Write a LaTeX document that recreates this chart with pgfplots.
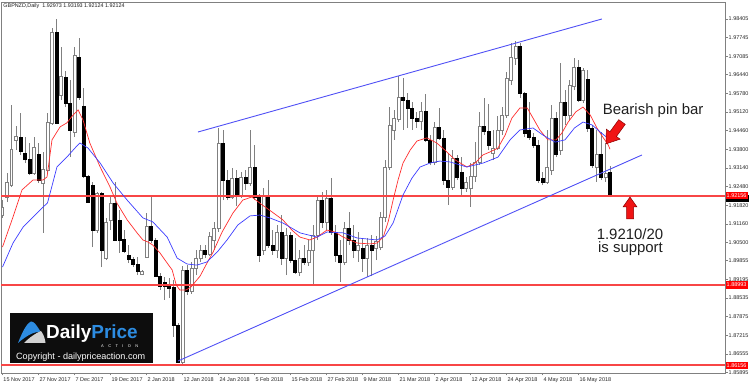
\documentclass[border=0pt]{standalone}
\usepackage{fontspec}
\setmainfont{Liberation Sans}
\usepackage{pgfplots}
\usepackage{pgfplotstable}
\pgfplotsset{compat=1.18}

\definecolor{wickgray}{RGB}{128,128,128}
\definecolor{chanblue}{RGB}{80,80,245}
\definecolor{mared}{RGB}{255,45,45}
\definecolor{mablue}{RGB}{60,60,255}
\definecolor{dpblue}{RGB}{45,140,225}
\definecolor{arrowred}{RGB}{240,20,20}
\definecolor{pricered}{RGB}{255,0,0}
\definecolor{supred}{RGB}{248,70,70}

\tikzset{
  wick/.style={draw=wickgray, line width=0.8bp},
  bullbody/.style={draw=wickgray, fill=white, line width=0.7bp},
  bearbody/.style={draw=black, fill=black, line width=0.7bp},
}

\pgfplotstableread{
i O H L C
0 1.9147 1.9200 1.9137 1.9176
1 1.9211 1.9296 1.9193 1.9264
2 1.9253 1.9536 1.9246 1.9381
3 1.9413 1.9462 1.9377 1.9427
4 1.9423 1.9508 1.9360 1.9374
5 1.9367 1.9423 1.9331 1.9345
6 1.9345 1.9402 1.9289 1.9296
7 1.9296 1.9423 1.9289 1.9388
8 1.9360 1.9402 1.9260 1.9271
9 1.9260 1.9370 1.9084 1.9310
10 1.9306 1.9508 1.9296 1.9476
11 1.9473 1.9809 1.9466 1.9795
12 1.9795 1.9841 1.9469 1.9473
13 1.9572 1.9741 1.9554 1.9639
14 1.9635 1.9657 1.9529 1.9543
15 1.9543 1.9625 1.9352 1.9448
16 1.9441 1.9741 1.9423 1.9713
17 1.9706 1.9773 1.9554 1.9565
18 1.9530 1.9596 1.9278 1.9285
19 1.9285 1.9289 1.9190 1.9193
20 1.9253 1.9264 1.9034 1.9094
21 1.9094 1.9229 1.9084 1.9225
22 1.9225 1.9229 1.8963 1.9023
23 1.8995 1.9137 1.8988 1.9123
24 1.9130 1.9218 1.9094 1.9190
25 1.9190 1.9264 1.9059 1.9059
26 1.9130 1.9165 1.9013 1.9059
27 1.9062 1.9094 1.9013 1.9020
28 1.9006 1.9041 1.8977 1.8992
29 1.8992 1.8999 1.8963 1.8974
30 1.8974 1.8999 1.8935 1.8949
31 1.8939 1.8953 1.8935 1.8949
32 1.8999 1.9154 1.8995 1.9108
33 1.9108 1.9218 1.9048 1.9059
34 1.9059 1.9066 1.8928 1.8931
35 1.8931 1.8942 1.8882 1.8896
36 1.8910 1.8928 1.8847 1.8896
37 1.8900 1.8924 1.8854 1.8889
38 1.8893 1.8917 1.8716 1.8758
39 1.8758 1.8765 1.8624 1.8627
40 1.8627 1.8967 1.86156 1.8953
41 1.8953 1.8970 1.8864 1.8878
42 1.8878 1.8981 1.8868 1.8960
43 1.8960 1.9023 1.8935 1.8995
44 1.8995 1.9041 1.8981 1.9023
45 1.9023 1.9041 1.8995 1.9009
46 1.9009 1.9087 1.9002 1.9073
47 1.9059 1.9123 1.9023 1.9101
48 1.9101 1.9455 1.9087 1.9402
49 1.9402 1.9448 1.9200 1.9271
50 1.9271 1.9306 1.9200 1.9211
51 1.9211 1.9314 1.9204 1.9278
52 1.9278 1.9306 1.9179 1.9218
53 1.9218 1.9299 1.9207 1.9282
54 1.9282 1.9306 1.9236 1.9260
55 1.9260 1.9448 1.9250 1.9314
56 1.9314 1.9395 1.9200 1.9211
57 1.9211 1.9222 1.8981 1.9006
58 1.9023 1.9243 1.9006 1.9218
59 1.9218 1.9271 1.9031 1.9041
60 1.9041 1.9094 1.9006 1.9023
61 1.9023 1.9112 1.8995 1.9087
62 1.9087 1.9147 1.8970 1.8995
63 1.8995 1.9101 1.8935 1.9077
64 1.9077 1.9087 1.8977 1.8988
65 1.8988 1.9066 1.8939 1.8946
66 1.8946 1.9023 1.8931 1.8995
67 1.8995 1.9041 1.8970 1.8981
68 1.8981 1.9059 1.8967 1.9023
69 1.9023 1.9112 1.8903 1.9077
70 1.9077 1.9218 1.9059 1.9200
71 1.9200 1.9229 1.9101 1.9123
72 1.9123 1.9236 1.9094 1.9207
73 1.9207 1.9278 1.9077 1.9087
74 1.9087 1.9112 1.8981 1.9006
75 1.9006 1.9059 1.8910 1.8981
76 1.8981 1.9123 1.8970 1.9101
77 1.9101 1.9158 1.9041 1.9059
78 1.9059 1.9112 1.8995 1.9023
79 1.9023 1.9087 1.8981 1.9041
80 1.9031 1.9066 1.8946 1.8995
81 1.8995 1.9066 1.8928 1.9041
82 1.9041 1.9077 1.8931 1.9023
83 1.9031 1.9073 1.8988 1.9055
84 1.9034 1.9158 1.9023 1.9140
85 1.9140 1.9342 1.9123 1.9317
86 1.9317 1.9529 1.9306 1.9466
87 1.9448 1.9519 1.9413 1.9490
88 1.9487 1.9639 1.9476 1.9565
89 1.9565 1.9632 1.9448 1.9554
90 1.9554 1.9579 1.9455 1.9526
91 1.9526 1.9547 1.9448 1.9490
92 1.9490 1.9512 1.9455 1.9480
93 1.9480 1.9547 1.9448 1.9515
94 1.9515 1.9575 1.9405 1.9413
95 1.9413 1.9430 1.9324 1.9335
96 1.9335 1.9476 1.9324 1.9459
97 1.9459 1.9526 1.9413 1.9420
98 1.9420 1.9448 1.9253 1.9271
99 1.9271 1.9367 1.9183 1.9246
100 1.9246 1.9377 1.9236 1.9349
101 1.9349 1.9360 1.9271 1.9282
102 1.9299 1.9352 1.9218 1.9243
103 1.9243 1.9282 1.9229 1.9264
104 1.9243 1.9331 1.9176 1.9285
105 1.9285 1.9405 1.9264 1.9335
106 1.9335 1.9512 1.9324 1.9462
107 1.9462 1.9561 1.9430 1.9444
108 1.9444 1.9540 1.9377 1.9395
109 1.9367 1.9448 1.9342 1.9384
110 1.9384 1.9497 1.9377 1.9448
111 1.9448 1.9529 1.9430 1.9501
112 1.9501 1.9653 1.9490 1.9632
113 1.9625 1.9756 1.9607 1.9706
114 1.9703 1.9763 1.9678 1.9745
115 1.9745 1.9756 1.9561 1.9579
116 1.9579 1.9582 1.9423 1.9437
117 1.9448 1.9547 1.9413 1.9423
118 1.9423 1.9437 1.9384 1.9395
119 1.9395 1.9413 1.9260 1.9271
120 1.9278 1.9299 1.9253 1.9264
121 1.9264 1.9448 1.9257 1.9317
122 1.9306 1.9536 1.9289 1.9490
123 1.9490 1.9512 1.9352 1.9360
124 1.9377 1.9685 1.9360 1.9547
125 1.9547 1.9589 1.9466 1.9501
126 1.9501 1.9625 1.9483 1.9607
127 1.9603 1.9703 1.9589 1.9671
128 1.9671 1.9696 1.9547 1.9554
129 1.9554 1.9667 1.9543 1.9660
130 1.9628 1.9660 1.9441 1.9455
131 1.9455 1.9466 1.9314 1.9324
132 1.9317 1.9448 1.9264 1.9360
133 1.9360 1.9441 1.9271 1.9282
134 1.9282 1.9402 1.9264 1.9296
135 1.92973 1.93193 1.92124 1.92124
}\candles

\pgfplotstableread{
i P
0 1.9034
2.33 1.9140
4.33 1.9236
6.78 1.9271
9.0 1.9271
9.9 1.9282
11.0 1.9413
12.8 1.9459
14.3 1.9473
15.7 1.9501
16.8 1.9519
17.9 1.9483
19.4 1.9402
21.7 1.9317
23.9 1.9246
25.4 1.9190
27.7 1.9130
29.9 1.9084
31.2 1.9059
32.3 1.9052
33.4 1.9041
35.0 1.9013
36.6 1.8977
37.7 1.8953
38.6 1.8900
39.4 1.8882
40.8 1.8882
41.9 1.8893
43.9 1.8931
45.2 1.8970
46.8 1.9016
48.8 1.9087
51.2 1.9154
53.4 1.9200
55.4 1.9211
57.7 1.9183
59.9 1.9158
62.3 1.9130
64.3 1.9094
66.1 1.9069
68.3 1.9059
69.9 1.9069
72.1 1.9094
73.9 1.9087
75.7 1.9069
78.8 1.9048
81.7 1.9045
83.2 1.9048
84.6 1.9069
85.7 1.9123
86.8 1.9200
87.9 1.9271
89.0 1.9331
90.6 1.9377
92.1 1.9409
94.3 1.9420
96.5 1.9402
98.3 1.9377
100.6 1.9342
103.2 1.9317
105.0 1.9331
106.8 1.9360
108.3 1.9370
110.1 1.9384
111.7 1.9430
113.2 1.9490
115.0 1.9526
116.6 1.9526
117.9 1.9490
119.4 1.9448
121.2 1.9413
123.0 1.9413
124.3 1.9437
125.7 1.9476
127.4 1.9512
129.0 1.9529
130.6 1.9501
132.1 1.9455
133.4 1.9423
134.6 1.9395
135 1.9380
}\mafast

\pgfplotstableread{
i P
0 1.8963
2.33 1.9048
4.6 1.9105
6.8 1.9140
8.8 1.9172
10.0 1.9190
11.0 1.9250
12.1 1.9317
14.3 1.9352
16.1 1.9384
17.2 1.9402
19.0 1.9384
21.7 1.9331
24.6 1.9260
27.7 1.9200
31.2 1.9137
33.4 1.9123
36.6 1.9069
38.8 1.8995
41.0 1.8974
43.2 1.8970
45.4 1.8981
47.7 1.9016
49.9 1.9059
52.3 1.9112
55.0 1.9144
57.2 1.9147
59.4 1.9137
62.3 1.9119
66.1 1.9084
69.9 1.9069
72.1 1.9087
75.7 1.9084
78.8 1.9066
83.2 1.9059
85.0 1.9073
86.8 1.9119
89.0 1.9218
91.0 1.9278
92.8 1.9317
95.0 1.9331
97.2 1.9338
99.4 1.9335
103.2 1.9317
106.8 1.9331
110.1 1.9352
112.8 1.9413
115.0 1.9448
117.9 1.9455
120.1 1.9430
122.8 1.9405
125.0 1.9413
127.1 1.9455
129.0 1.9476
131.0 1.9466
132.8 1.9441
135.0 1.9413
}\maslow

\pgfplotstableread{
x y
-0.3 1.92156
160.5 1.92156
nan nan
-0.3 1.88993
160.5 1.88993
nan nan
-0.3 1.86156
160.5 1.86156
}\suplines

\begin{document}
\begin{tikzpicture}
\begin{axis}[
  at={(1bp,13bp)}, anchor=south west,
  scale only axis, width=724bp, height=371bp,
  xmin=-0.3333, xmax=160.556,
  ymin=1.85884, ymax=1.99006,
  axis line style={draw=gray, line width=0.8bp},
  xtick={0,8,...,128},
  xticklabels={15 Nov 2017,27 Nov 2017,7 Dec 2017,19 Dec 2017,2 Jan 2018,12 Jan 2018,24 Jan 2018,5 Feb 2018,15 Feb 2018,27 Feb 2018,9 Mar 2018,21 Mar 2018,2 Apr 2018,12 Apr 2018,24 Apr 2018,4 May 2018,16 May 2018},
  ytick={1.85895,1.86555,1.87215,1.87875,1.88535,1.89195,1.89855,1.90500,1.91160,1.91820,1.92480,1.93140,1.93800,1.94460,1.95120,1.95780,1.96440,1.97085,1.97745,1.98405},
  yticklabels={1.85895,1.86555,1.87215,1.87875,1.88535,1.89195,1.89855,1.90500,1.91160,1.91820,1.92480,1.93140,1.93800,1.94460,1.95120,1.95780,1.96440,1.97085,1.97745,1.98405},
  xtick pos=bottom, ytick pos=right, yticklabel pos=right,
  tick align=outside,
  major tick length=2.5bp,
  tick style={draw=gray, line width=0.6bp},
  tick label style={font=\fontsize{5.5}{6}\selectfont, text=black!85, inner sep=0pt},
  xticklabel style={anchor=north west, xshift=0.8bp, yshift=-1.5bp},
  yticklabel style={anchor=west, xshift=1bp},
  unbounded coords=jump,
  clip=true,
]
% candles
\pgfplotstablegetrowsof{\candles}
\pgfmathtruncatemacro{\lastrow}{\pgfplotsretval-1}
\pgfplotsforeachungrouped \rowidx in {0,...,\lastrow}{%
  \pgfplotstablegetelem{\rowidx}{i}\of\candles \edef\ci{\pgfplotsretval}%
  \pgfplotstablegetelem{\rowidx}{O}\of\candles \edef\co{\pgfplotsretval}%
  \pgfplotstablegetelem{\rowidx}{H}\of\candles \edef\ch{\pgfplotsretval}%
  \pgfplotstablegetelem{\rowidx}{L}\of\candles \edef\cl{\pgfplotsretval}%
  \pgfplotstablegetelem{\rowidx}{C}\of\candles \edef\cc{\pgfplotsretval}%
  \pgfmathsetmacro{\xa}{\ci-0.3}%
  \pgfmathsetmacro{\xb}{\ci+0.3}%
  \pgfmathtruncatemacro{\isbear}{\cc<\co}%
  \ifnum\isbear=1 \def\bs{bearbody}\else\def\bs{bullbody}\fi
  \edef\temp{\noexpand\addplot[wick] coordinates {(\ci,\cl) (\ci,\ch)};%
    \noexpand\addplot[\bs] coordinates {(\xa,\co) (\xb,\co) (\xb,\cc) (\xa,\cc)} -- cycle;}%
  \temp
}

% horizontal support/resistance lines
\addplot[draw=supred, line width=1.9bp, mark=none, solid] table[x=x, y=y] {\suplines};

% moving averages
\addplot[draw=mared, line width=0.7bp] table[x=i, y=P] {\mafast};
\addplot[draw=mablue, line width=0.7bp] table[x=i, y=P] {\maslow};

% channel lines
\addplot[draw=chanblue, line width=0.9bp] coordinates {(43.44,1.94408) (133.2,1.98405)};
\addplot[draw=chanblue, line width=0.9bp] coordinates {(39.0,1.86308) (142.1,1.93595)};
\end{axis}

\begin{scope}[x=1bp,y=-1bp,shift={(0bp,386bp)}]
  % header
  \node[anchor=west, inner sep=0, font=\fontsize{5.4}{6}\selectfont, text=black!90] at (3.3,5.8) {GBPNZD,Daily\ \ 1.92973 1.93193 1.92124 1.92124};
  % price labels on the axis
  \fill[black] (725.5,195.5) rectangle (748.5,202.5);
  \node[anchor=west, fill=pricered, text=white, inner sep=1bp, minimum height=7.5bp, font=\fontsize{5.5}{6}\selectfont] at (725.5,195.7) {1.92156};
  \node[anchor=west, fill=pricered, text=white, inner sep=1bp, minimum height=7.5bp, font=\fontsize{5.5}{6}\selectfont] at (725.5,285) {1.88993};
  \node[anchor=west, fill=pricered, text=white, inner sep=1bp, minimum height=7.5bp, font=\fontsize{5.5}{6}\selectfont] at (725.5,365.3) {1.86156};
  % annotations
  \node[anchor=base west, inner sep=0, font=\fontsize{15}{18}\selectfont, text=black!88] at (602.7,114.5) {Bearish pin bar};
  \node[anchor=base, inner sep=0, font=\fontsize{15}{18}\selectfont, text=black!88] at (630,239.3) {1.9210/20};
  \node[anchor=base, inner sep=0, font=\fontsize{15}{18}\selectfont, text=black!88] at (630.5,253) {is support};
  % arrows
  \filldraw[fill=arrowred, draw=red!55!black, line width=0.5bp]
    (625.24,124.35) -- (616.42,136.49) -- (620.06,139.14) -- (606.12,143.84)
    -- (606.30,129.14) -- (609.94,131.79) -- (618.76,119.65) -- cycle;
  \filldraw[fill=arrowred, draw=red!55!black, line width=0.5bp]
    (626.5,219) -- (626.5,207) -- (623,207) -- (630,197) -- (637,207) -- (633.5,207) -- (633.5,219) -- cycle;
  % logo
  \fill[black!95] (10,312.7) rectangle (152.7,363.3);
  \fill[dpblue] (18,343) .. controls (22,333) and (26,324) .. (31,321.5)
     .. controls (34,321) and (37,326) .. (40.5,331.5)
     .. controls (33,332) and (26,336) .. (18,343) -- cycle;
  \fill[gray!35] (24,343) .. controls (30,337) and (36,333) .. (41,331)
     .. controls (44,335) and (45,339) .. (45.5,343) -- cycle;
  \node[anchor=base west, inner sep=0, font=\bfseries\fontsize{19}{20}\selectfont] at (46,339) {\textcolor{white}{Daily}\textcolor{dpblue}{Price}};
  \node[anchor=base west, inner sep=0, font=\fontsize{4}{5}\selectfont, text=white] at (101,347.5) {A\hspace{4.4bp}C\hspace{4.4bp}T\hspace{4.4bp}I\hspace{4.4bp}O\hspace{4.4bp}N};
  \node[anchor=base west, inner sep=0, font=\fontsize{9.1}{10}\selectfont, text=white] at (16,359.5) {Copyright - dailypriceaction.com};
\end{scope}
\pgfresetboundingbox
\useasboundingbox (0,0) rectangle (750bp,386bp);
\end{tikzpicture}
\end{document}
